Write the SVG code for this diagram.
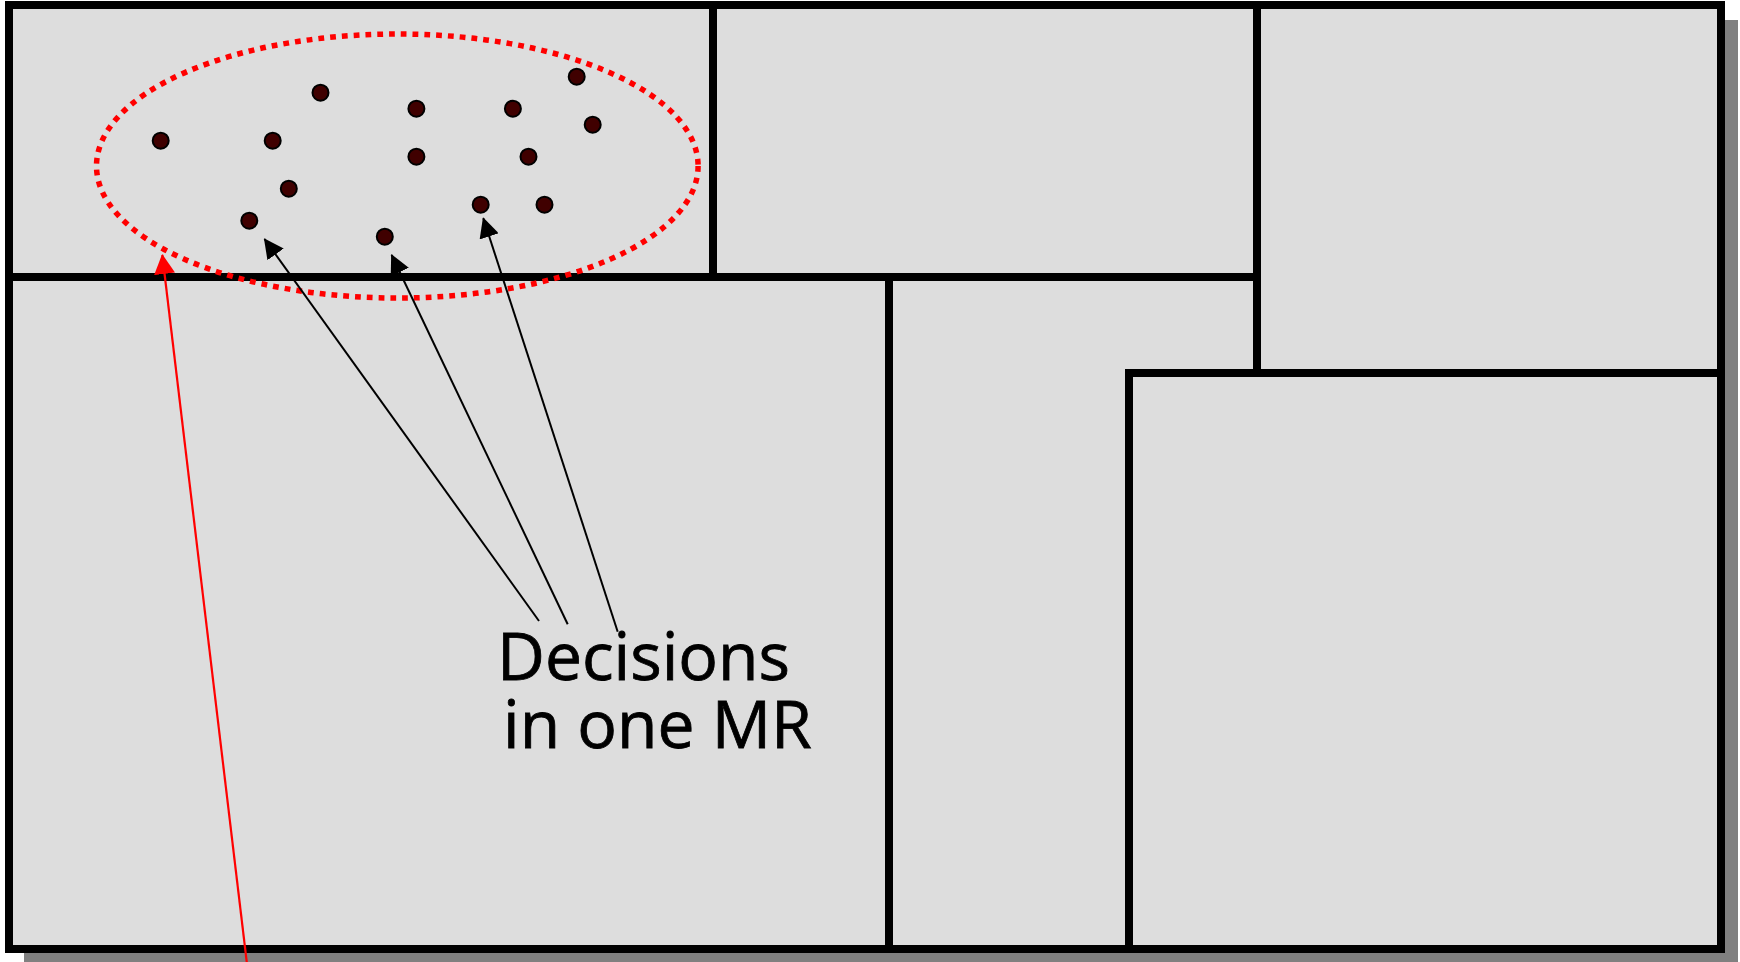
<svg xmlns="http://www.w3.org/2000/svg" width="1740" height="962" viewBox="0 0 1740 962">
  <style>
    .region { fill: #dddddd; stroke: #000000; stroke-width: 8; stroke-linejoin: miter; }
    .dot { fill: #400000; stroke: #000000; stroke-width: 2; }
    .pointer { stroke: #000000; stroke-width: 2; fill: none; }
    .pointer-red { stroke: #ff0000; stroke-width: 2.2; fill: none; }
    .label { font-family: "Open Sans", "Noto Sans", "DejaVu Sans", sans-serif; font-size: 66px; fill: #000000; stroke: #000000; stroke-width: 0.8; }
  </style>
  <defs>
    <marker id="head-black" markerUnits="userSpaceOnUse" viewBox="0 0 20 20" refX="19" refY="10" markerWidth="20" markerHeight="20" orient="auto">
      <path d="M0,0 L20,10 L0,20 z" fill="#000000"/>
    </marker>
    <marker id="head-red" markerUnits="userSpaceOnUse" viewBox="0 0 20 21" refX="19" refY="10.5" markerWidth="20" markerHeight="21" orient="auto">
      <path d="M0,0 L20,10.5 L0,21 z" fill="#ff0000"/>
    </marker>
  </defs>

  <!-- drop shadow of the whole plan -->
  <rect id="shadow" x="24" y="20" width="1714" height="950" fill="#808080"/>

  <!-- regions of the plan -->
  <g id="region-top-left">
    <rect class="region" x="9" y="5" width="704" height="272"/>
  </g>
  <g id="region-top-middle">
    <rect class="region" x="713" y="5" width="544" height="272"/>
  </g>
  <g id="region-top-right">
    <rect class="region" x="1257" y="5" width="464" height="368"/>
  </g>
  <g id="region-bottom-left">
    <rect class="region" x="9" y="277" width="880" height="672"/>
  </g>
  <g id="region-bottom-middle">
    <path class="region" d="M889,277 H1257 V373 H1129 V949 H889 Z"/>
  </g>
  <g id="region-bottom-right">
    <rect class="region" x="1129" y="373" width="592" height="576"/>
  </g>

  <!-- decision points -->
  <g id="decisions">
    <circle class="dot" cx="160.7" cy="140.7" r="8"/>
    <circle class="dot" cx="320.5" cy="92.7" r="8"/>
    <circle class="dot" cx="272.7" cy="140.7" r="8"/>
    <circle class="dot" cx="416.4" cy="108.7" r="8"/>
    <circle class="dot" cx="512.9" cy="108.7" r="8"/>
    <circle class="dot" cx="576.7" cy="76.7" r="8"/>
    <circle class="dot" cx="592.7" cy="124.7" r="8"/>
    <circle class="dot" cx="416.4" cy="156.7" r="8"/>
    <circle class="dot" cx="528.5" cy="156.7" r="8"/>
    <circle class="dot" cx="288.8" cy="188.7" r="8"/>
    <circle class="dot" cx="249.3" cy="220.7" r="8"/>
    <circle class="dot" cx="384.8" cy="236.7" r="8"/>
    <circle class="dot" cx="480.7" cy="204.7" r="8"/>
    <circle class="dot" cx="544.5" cy="204.7" r="8"/>
  </g>

  <!-- boundary around one MR -->
  <g id="mr-boundary">
    <ellipse cx="397.3" cy="166" rx="300.8" ry="132" fill="none" stroke="#ff0000" stroke-width="5.5" stroke-dasharray="5.8 6"/>
  </g>

  <!-- label -->
  <g id="label">
    <text class="label" x="497" y="680">Decisions</text>
    <text class="label" x="503" y="748">in one MR</text>
  </g>

  <!-- connectors -->
  <g id="connectors">
    <line class="pointer" x1="539" y1="621" x2="264.5" y2="239" marker-end="url(#head-black)"/>
    <line class="pointer" x1="567.7" y1="624.3" x2="391.6" y2="255" marker-end="url(#head-black)"/>
    <line class="pointer" x1="617.7" y1="631.7" x2="483.3" y2="218.3" marker-end="url(#head-black)"/>
    <line class="pointer-red" x1="247.7" y1="970" x2="162.3" y2="255" marker-end="url(#head-red)"/>
  </g>
</svg>
